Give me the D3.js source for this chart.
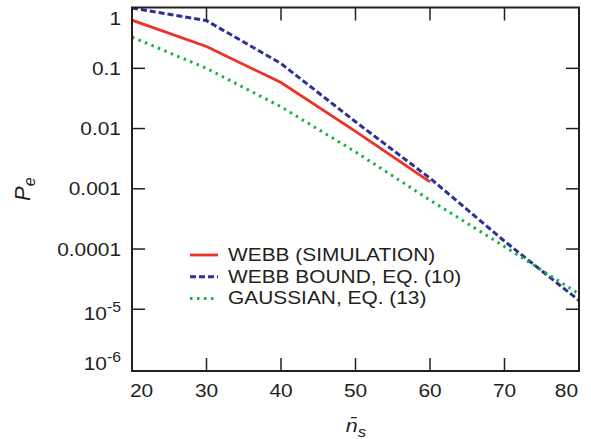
<!DOCTYPE html>
<html>
<head>
<meta charset="utf-8">
<script src="https://cdn.jsdelivr.net/npm/d3@7"></script>
<style>
  body { margin: 0; background: #fff; }
  text { font-family: "Liberation Sans", Arial, sans-serif; fill: #231f20; }
</style>
</head>
<body>
<script>
// data
var xTicks = [20, 30, 40, 50, 60, 70, 80];
var yTicks = [1, 0.1, 0.01, 0.001, 1e-4, 1e-5, 1e-6];
var yLabels = ["1", "0.1", "0.01", "0.001", "0.0001", ["10", "-5"], ["10", "-6"]];

var simX = [20, 30, 40, 50, 60];
var simY = [0.63, 0.23, 0.058, 0.009, 0.0013];

var boundX = [20, 30, 40, 50, 60, 70, 80];
var boundY = [1.0, 0.62, 0.12, 0.013, 0.0015, 1.35e-4, 1.4e-5];

var gaussX = [20, 30, 40, 50, 60, 70, 80];
var gaussY = [0.33, 0.1, 0.023, 0.0041, 6.5e-4, 1.1e-4, 1.8e-5];

var legendNames = ["WEBB (SIMULATION)", "WEBB BOUND, EQ. (10)", "GAUSSIAN, EQ. (13)"];

var width = 591, height = 439;
// note: "top" is taken by window.top, so plot edges get their own names
var pLeft = 132, pRight = 579, pTop = 7.5, pBottom = 371;
var ink = "#231f20";
var stretch = 1.13; // the reference text is a little wide

var styles = [
  {color: "#ee3124", dash: null, w: 2.8},
  {color: "#2e3192", dash: "6,3", w: 3},
  {color: "#14b14b", dash: "2.5,4.5", w: 3}
];

var svg = d3.select("body").append("svg")
    .attr("width", width)
    .attr("height", height);

var x = d3.scaleLinear().domain([20, 80]).range([pLeft, pRight]);
var y = d3.scaleLog().domain([Math.pow(10, -6.025), Math.pow(10, 0.01)]).range([pBottom, pTop]);

svg.append("clipPath").attr("id", "clip")
  .append("rect")
    .attr("x", pLeft).attr("y", pTop)
    .attr("width", pRight - pLeft).attr("height", pBottom - pTop);

// series
var line = d3.line()
    .x(function(d) { return x(d[0]); })
    .y(function(d) { return y(d[1]); });

var series = [
  d3.zip(simX, simY),
  d3.zip(boundX, boundY),
  d3.zip(gaussX, gaussY)
];

var plot = svg.append("g").attr("clip-path", "url(#clip)");
series.forEach(function(s, i) {
  plot.append("path")
    .datum(s)
    .attr("d", line)
    .attr("fill", "none")
    .attr("stroke", styles[i].color)
    .attr("stroke-width", styles[i].w)
    .attr("stroke-dasharray", styles[i].dash);
});

// frame
svg.append("rect")
  .attr("x", pLeft).attr("y", pTop)
  .attr("width", pRight - pLeft).attr("height", pBottom - pTop)
  .attr("fill", "none")
  .attr("stroke", ink)
  .attr("stroke-width", 2);

// ticks (inward, all four sides)
var tl = 13;
var innerX = xTicks.slice(1, -1);
var innerY = yTicks.slice(1, -1);
var ticks = svg.append("g").attr("stroke", ink).attr("stroke-width", 1.5);
innerX.forEach(function(v) {
  ticks.append("line").attr("x1", x(v)).attr("x2", x(v)).attr("y1", pBottom).attr("y2", pBottom - tl);
  ticks.append("line").attr("x1", x(v)).attr("x2", x(v)).attr("y1", pTop).attr("y2", pTop + tl);
});
innerY.forEach(function(v) {
  ticks.append("line").attr("x1", pLeft).attr("x2", pLeft + tl).attr("y1", y(v)).attr("y2", y(v));
  ticks.append("line").attr("x1", pRight).attr("x2", pRight - tl).attr("y1", y(v)).attr("y2", y(v));
});

function stretchedText(px, py, anchor) {
  return svg.append("text")
    .attr("transform", "translate(" + px + "," + py + ") scale(" + stretch + ",1)")
    .attr("text-anchor", anchor)
    .style("font-size", "18.5px");
}

// x tick labels
xTicks.forEach(function(v, i) {
  var anchor = i === 0 ? "start" : (i === xTicks.length - 1 ? "end" : "middle");
  var px = i === 0 ? x(v) - 2 : (i === xTicks.length - 1 ? x(v) - 1 : x(v));
  stretchedText(px, 397, anchor).text(v);
});

// y tick labels
yTicks.forEach(function(v, i) {
  var lab = yLabels[i];
  var dy = 6.5;
  if (i === 0) dy = 17;
  else if (i === yTicks.length - 1) dy = 0.5;
  else if (Array.isArray(lab)) dy = 10.5;
  var t = stretchedText(121, y(v) + dy, "end");
  if (Array.isArray(lab)) {
    t.append("tspan").text(lab[0]);
    t.append("tspan").attr("dy", -8).style("font-size", "14px").text(lab[1]);
  } else {
    t.text(lab);
  }
});

// axis titles
var xt = stretchedText(356, 432, "middle").style("font-style", "italic").style("font-size", "19px");
xt.append("tspan").text("n\u0304");
xt.append("tspan").attr("dy", 5).style("font-size", "15px").text("s");

var yt = svg.append("text")
  .attr("transform", "translate(30," + ((pTop + pBottom) / 2) + ") rotate(-90)")
  .attr("text-anchor", "middle")
  .style("font-style", "italic")
  .style("font-size", "22px");
yt.append("tspan").text("P");
yt.append("tspan").attr("dy", 5).style("font-size", "16px").text("e");

// legend
var lg = svg.append("g");
legendNames.forEach(function(name, i) {
  var ly = 255 + i * 21.7;
  lg.append("line")
    .attr("x1", 190).attr("x2", 218)
    .attr("y1", ly).attr("y2", ly)
    .attr("stroke", styles[i].color)
    .attr("stroke-width", styles[i].w)
    .attr("stroke-dasharray", styles[i].dash);
  stretchedText(228, ly + 6, "start").text(name);
});
</script>
</body>
</html>
